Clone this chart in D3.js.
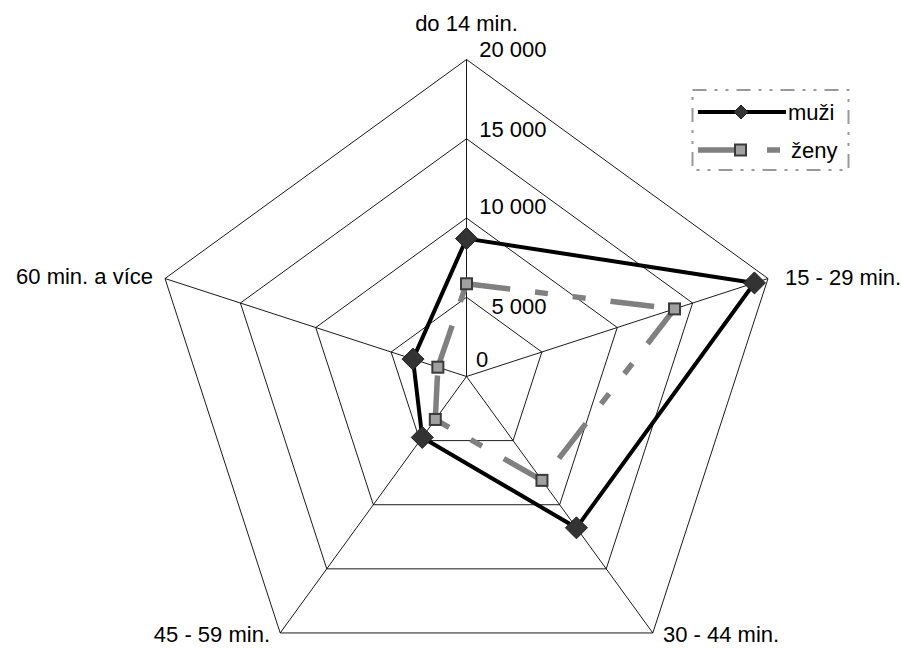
<!DOCTYPE html>
<html>
<head>
<meta charset="utf-8">
<script src="https://cdn.jsdelivr.net/npm/d3@7/dist/d3.min.js"></script>
<style>
html,body{margin:0;padding:0;background:#fff;}
svg{display:block;}
text{font-family:"Liberation Sans",Arial,sans-serif;fill:#000;}
</style>
</head>
<body>
<svg id="chart" width="902" height="648"></svg>
<script>
const categories = ["do 14 min.", "15 - 29 min.", "30 - 44 min.", "45 - 59 min.", "60 min. a více"];
const muzi = [8700, 19100, 11800, 4750, 3550];
const zeny = [5850, 13800, 8100, 3350, 1900];
const seriesNames = ["muži", "ženy"];
const tickValues = [0, 5000, 10000, 15000, 20000];
const tickLabels = ["0", "5 000", "10 000", "15 000", "20 000"];

const svg = d3.select("#chart");
const cx = 466.5, cy = 376.5, R = 317;
const fs = 22;

const r = d3.scaleLinear().domain([0, 20000]).range([0, R]);
const angle = d3.scaleLinear().domain([0, categories.length]).range([0, 2 * Math.PI]);
const pt = (i, v) => [cx + r(v) * Math.sin(angle(i)), cy - r(v) * Math.cos(angle(i))];

// grid rings
const gridG = svg.append("g");
tickValues.filter(v => v > 0).forEach(v => {
  gridG.append("path")
    .attr("d", d3.line()(categories.map((c, i) => pt(i, v))) + "Z")
    .attr("fill", "none").attr("stroke", "#000").attr("stroke-width", 0.9);
});
// spokes
categories.forEach((c, i) => {
  const [x, y] = pt(i, 20000);
  gridG.append("line").attr("x1", cx).attr("y1", cy).attr("x2", x).attr("y2", y)
    .attr("stroke", "#000").attr("stroke-width", 0.9);
});

// tick labels
const tickDy = {0: -9.5, 5000: 17, 10000: -4, 15000: -2, 20000: -2.5};
svg.append("g").selectAll("text").data(tickValues).join("text")
  .attr("x", d => d === 0 ? cx + 9.5 : cx + 80)
  .attr("y", d => cy - r(d) + tickDy[d])
  .attr("text-anchor", d => d === 0 ? "start" : "end")
  .attr("font-size", fs)
  .text((d, i) => tickLabels[i]);

// category labels
const catPos = [
  {x: cx, y: 31, a: "middle"},
  {x: 785, y: 285, a: "start"},
  {x: 663, y: 642, a: "start"},
  {x: 270, y: 642, a: "end"},
  {x: 153, y: 284, a: "end"}
];
svg.append("g").selectAll("text").data(categories).join("text")
  .attr("x", (d, i) => catPos[i].x)
  .attr("y", (d, i) => catPos[i].y)
  .attr("text-anchor", (d, i) => catPos[i].a)
  .attr("font-size", fs)
  .text(d => d);

const zenyDash = "44,25,13,25,13,25";

// zeny series: each segment restarts dash pattern
const zG = svg.append("g");
zeny.forEach((v, i) => {
  const j = (i + 1) % zeny.length;
  const a = pt(i, v), b = pt(j, zeny[j]);
  zG.append("line").attr("x1", a[0]).attr("y1", a[1]).attr("x2", b[0]).attr("y2", b[1])
    .attr("stroke", "#808080").attr("stroke-width", 5.5).attr("stroke-dasharray", zenyDash);
});

// muzi series
svg.append("path")
  .attr("d", d3.line()(muzi.map((v, i) => pt(i, v))) + "Z")
  .attr("fill", "none").attr("stroke", "#000").attr("stroke-width", 4).attr("stroke-linejoin", "miter");

// markers
const diamond = (x, y, s) => `M${x},${y - s}L${x + s},${y}L${x},${y + s}L${x - s},${y}Z`;
zeny.forEach((v, i) => {
  const [x, y] = pt(i, v);
  zG.append("rect").attr("x", x - 5.5).attr("y", y - 5.5).attr("width", 11).attr("height", 11)
    .attr("fill", "#a0a0a0").attr("stroke", "#3a3a3a").attr("stroke-width", 2);
});
muzi.forEach((v, i) => {
  const [x, y] = pt(i, v);
  svg.append("path").attr("d", diamond(x, y, 11)).attr("fill", "#333").attr("stroke", "#222").attr("stroke-width", 1);
});

// legend
const lg = svg.append("g");
lg.append("rect").attr("x", 692.5).attr("y", 90).attr("width", 156).attr("height", 80)
  .attr("fill", "#fff").attr("stroke", "#999").attr("stroke-width", 2)
  .attr("stroke-dasharray", "14,8,3,8,3,8");
lg.append("line").attr("x1", 698).attr("y1", 112).attr("x2", 786).attr("y2", 112)
  .attr("stroke", "#000").attr("stroke-width", 4);
lg.append("path").attr("d", diamond(741, 112, 7)).attr("fill", "#333").attr("stroke", "#222");
lg.append("line").attr("x1", 698).attr("y1", 150).attr("x2", 786).attr("y2", 150)
  .attr("stroke", "#808080").attr("stroke-width", 5.5).attr("stroke-dasharray", zenyDash);
lg.append("rect").attr("x", 735).attr("y", 144.5).attr("width", 11).attr("height", 11)
  .attr("fill", "#a0a0a0").attr("stroke", "#3a3a3a").attr("stroke-width", 2);
lg.selectAll("text.lt").data(seriesNames).join("text")
  .attr("x", (d, i) => i === 0 ? 788 : 791)
  .attr("y", (d, i) => i === 0 ? 120 : 158)
  .attr("font-size", fs)
  .text(d => d);
</script>
</body>
</html>
